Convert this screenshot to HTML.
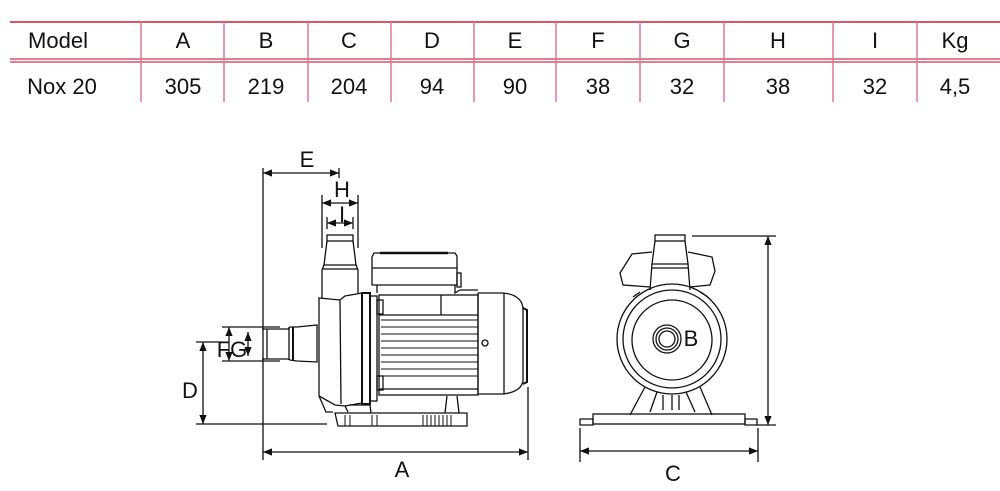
<!DOCTYPE html>
<html><head><meta charset="utf-8"><style>
html,body{margin:0;padding:0;background:#fff;width:1000px;height:491px;overflow:hidden}
svg{display:block}
text{font-family:"Liberation Sans",Arial,sans-serif;fill:#111}
</style></head><body>
<svg width="1000" height="491" viewBox="0 0 1000 491" xmlns="http://www.w3.org/2000/svg">
<defs>
<marker id="ar" viewBox="0 0 10 10" refX="10" refY="5" markerWidth="7" markerHeight="7" orient="auto-start-reverse"><path d="M0,1 L10,5 L0,9 z" fill="#111"/></marker>
</defs>
<!-- table -->
<g stroke="#d9546c" stroke-width="2">
<line x1="10" y1="22" x2="1000" y2="22"/>
<line x1="10" y1="59" x2="1000" y2="59" stroke-width="1.5"/>
<line x1="10" y1="62" x2="1000" y2="62" stroke-width="1.5"/>
</g>
<g stroke="#e07a8c" stroke-width="1.5">
<line x1="141" y1="22" x2="141" y2="102"/><line x1="224" y1="22" x2="224" y2="102"/>
<line x1="308" y1="22" x2="308" y2="102"/><line x1="391" y1="22" x2="391" y2="102"/>
<line x1="474" y1="22" x2="474" y2="102"/><line x1="556" y1="22" x2="556" y2="102"/>
<line x1="640" y1="22" x2="640" y2="102"/><line x1="724" y1="22" x2="724" y2="102"/>
<line x1="833" y1="22" x2="833" y2="102"/><line x1="917" y1="22" x2="917" y2="102"/>
</g>
<g font-size="22" text-anchor="middle">
<text x="58" y="48">Model</text><text x="183" y="48">A</text><text x="266" y="48">B</text><text x="349" y="48">C</text><text x="432" y="48">D</text><text x="515" y="48">E</text><text x="598" y="48">F</text><text x="682" y="48">G</text><text x="778" y="48">H</text><text x="875" y="48">I</text><text x="955" y="48">Kg</text>
<text x="62" y="94">Nox 20</text><text x="183" y="94">305</text><text x="266" y="94">219</text><text x="349" y="94">204</text><text x="432" y="94">94</text><text x="515" y="94">90</text><text x="598" y="94">38</text><text x="682" y="94">32</text><text x="778" y="94">38</text><text x="875" y="94">32</text><text x="955" y="94">4,5</text>
</g>
<!-- side view -->
<g fill="none" stroke="#111" stroke-width="1.3">
<line x1="263" y1="168" x2="263" y2="460"/>
<line x1="263" y1="173" x2="339" y2="173" marker-start="url(#ar)" marker-end="url(#ar)"/>
<line x1="339" y1="168" x2="339" y2="178"/>
<line x1="322" y1="195" x2="322" y2="248"/><line x1="358" y1="195" x2="358" y2="248"/>
<line x1="322" y1="203" x2="358" y2="203" marker-start="url(#ar)" marker-end="url(#ar)"/>
<line x1="327" y1="217" x2="327" y2="229"/><line x1="353" y1="217" x2="353" y2="229"/>
<line x1="327" y1="223" x2="353" y2="223" marker-start="url(#ar)" marker-end="url(#ar)"/>
<line x1="222" y1="327" x2="280" y2="327"/><line x1="222" y1="361" x2="280" y2="361"/>
<line x1="229" y1="327" x2="229" y2="361" marker-start="url(#ar)" marker-end="url(#ar)"/>
<line x1="248" y1="332" x2="248" y2="356" marker-start="url(#ar)" marker-end="url(#ar)"/>
<line x1="196" y1="342" x2="222" y2="342"/><line x1="196" y1="424" x2="327" y2="424"/>
<line x1="203" y1="342" x2="203" y2="424" marker-start="url(#ar)" marker-end="url(#ar)"/>
<line x1="528" y1="387" x2="528" y2="460"/>
<line x1="263" y1="452" x2="528" y2="452" marker-start="url(#ar)" marker-end="url(#ar)"/>
<rect x="327" y="235" width="26" height="6"/>
<path d="M327 241 L324 265 L356 265 L353 241"/>
<path d="M324 265 L322 270 L322 298 M356 265 L358 270 L358 293"/>
<line x1="322" y1="269" x2="358" y2="269"/>
<path d="M262 329 L288 329 L290 327 L297 327 L317 325 L317 362 L297 361 L290 360 L288 359 L262 359"/>
<line x1="267" y1="329" x2="267" y2="359"/><line x1="289" y1="327" x2="289" y2="360"/><line x1="293" y1="327" x2="293" y2="361" stroke-width="2"/>
<path d="M319 298 L340 300 L345 296 L362 293 L362 403 L345 406 L335 405 L319 396 Z"/>
<path d="M340 300 L341 404"/>
<path d="M319 396 L326 412 L333 412 M345 406 L348 412"/>
<rect x="362" y="293" width="8" height="111" stroke-width="2"/>
<rect x="370" y="296" width="7" height="105"/>
<rect x="377" y="300" width="6" height="14"/><rect x="377" y="376" width="6" height="14"/>
<rect x="379" y="295" width="99" height="100"/>
<line x1="379" y1="315" x2="478" y2="315"/>
<g stroke-width="1">
<line x1="381" y1="320" x2="478" y2="320"/><line x1="381" y1="327" x2="478" y2="327"/><line x1="381" y1="334" x2="478" y2="334"/><line x1="381" y1="341" x2="478" y2="341"/><line x1="381" y1="348" x2="478" y2="348"/><line x1="381" y1="355" x2="478" y2="355"/><line x1="381" y1="362" x2="478" y2="362"/><line x1="381" y1="369" x2="478" y2="369"/><line x1="381" y1="376" x2="478" y2="376"/>
</g>
<line x1="379" y1="389" x2="478" y2="389"/>
<line x1="441" y1="295" x2="441" y2="315"/>
<path d="M478 293 L503 293 Q523 295 523 310 L523 381 Q521 392 503 394 L478 394 Z"/>
<line x1="504" y1="293" x2="504" y2="394"/>
<path d="M523 308 L527 310 L527 382 L523 384" stroke-width="2"/>
<circle cx="485" cy="343" r="3"/>
<path d="M374 253 L455 253 L457 256 L457 285 L372 285 L372 257 Z"/>
<line x1="380" y1="253" x2="448" y2="253" stroke-width="2.5"/>
<line x1="372" y1="268" x2="457" y2="268"/>
<path d="M377 285 L377 293 M455 285 L455 293 L460 290 L478 290"/>
<rect x="457" y="273" width="4" height="14"/>
<path d="M335 413 L467 413 L467 426 L338 426 Z"/>
<path d="M349 405 L370 405 L371 413 M447 396 L445 413 M457 396 L459 413"/>
<g stroke-width="1"><line x1="345" y1="415" x2="345" y2="426"/><line x1="350" y1="415" x2="350" y2="426"/><line x1="372" y1="415" x2="372" y2="426"/><line x1="377" y1="415" x2="377" y2="426"/>
<line x1="423" y1="415" x2="423" y2="426"/><line x1="427" y1="415" x2="427" y2="426"/><line x1="431" y1="415" x2="431" y2="426"/><line x1="435" y1="415" x2="435" y2="426"/><line x1="439" y1="415" x2="439" y2="426"/><line x1="443" y1="415" x2="443" y2="426"/><line x1="447" y1="415" x2="447" y2="426"/><line x1="451" y1="415" x2="451" y2="426"/></g>
</g>
<g font-size="22" text-anchor="middle">
<text x="307" y="167">E</text><text x="342" y="197">H</text><text x="342" y="222">I</text>
<text x="232" y="357">FG</text><text x="190" y="398">D</text>
<text x="402" y="477">A</text>
</g>
<!-- front view -->
<g fill="none" stroke="#111" stroke-width="1.3">
<rect x="655" y="235" width="30" height="6"/>
<path d="M655 241 L652 264 L688 264 L685 241"/>
<path d="M652 264 L650 290 M688 264 L690 290 M652 268 L688 268"/>
<path d="M650 287 L623 285 L620 273 L632 254 L652 252 M688 252 L712 257 L715 271 L710 285 L690 287"/>
<path d="M640 292 L633 297 M700 292 L708 297"/>
<circle cx="672" cy="339" r="55"/>
<circle cx="672" cy="339" r="49"/>
<circle cx="672" cy="340" r="40"/>
<circle cx="667" cy="339" r="14"/><circle cx="667" cy="339" r="11"/><circle cx="667" cy="339" r="8"/>
<path d="M645 387 L630 415 M700 387 L712 415 M657 392 L650 412 M686 392 L695 412"/>
<path d="M663 395 L663 410 M672 395 L672 410 M679 395 L679 410"/>
<rect x="593" y="414" width="152" height="10"/>
<path d="M580 419 L593 419 L593 425 L580 425 Z M745 419 L757 419 L757 425 L745 425 Z"/>
<line x1="692" y1="236" x2="776" y2="236"/><line x1="757" y1="425" x2="776" y2="425"/>
<line x1="768" y1="236" x2="768" y2="425" marker-start="url(#ar)" marker-end="url(#ar)"/>
<line x1="580" y1="428" x2="580" y2="462"/><line x1="758" y1="428" x2="758" y2="462"/>
<line x1="580" y1="451" x2="758" y2="451" marker-start="url(#ar)" marker-end="url(#ar)"/>
</g>
<text x="691" y="346" font-size="22" text-anchor="middle">B</text>
<text x="673" y="481" font-size="22" text-anchor="middle">C</text>
</svg>
</body></html>
